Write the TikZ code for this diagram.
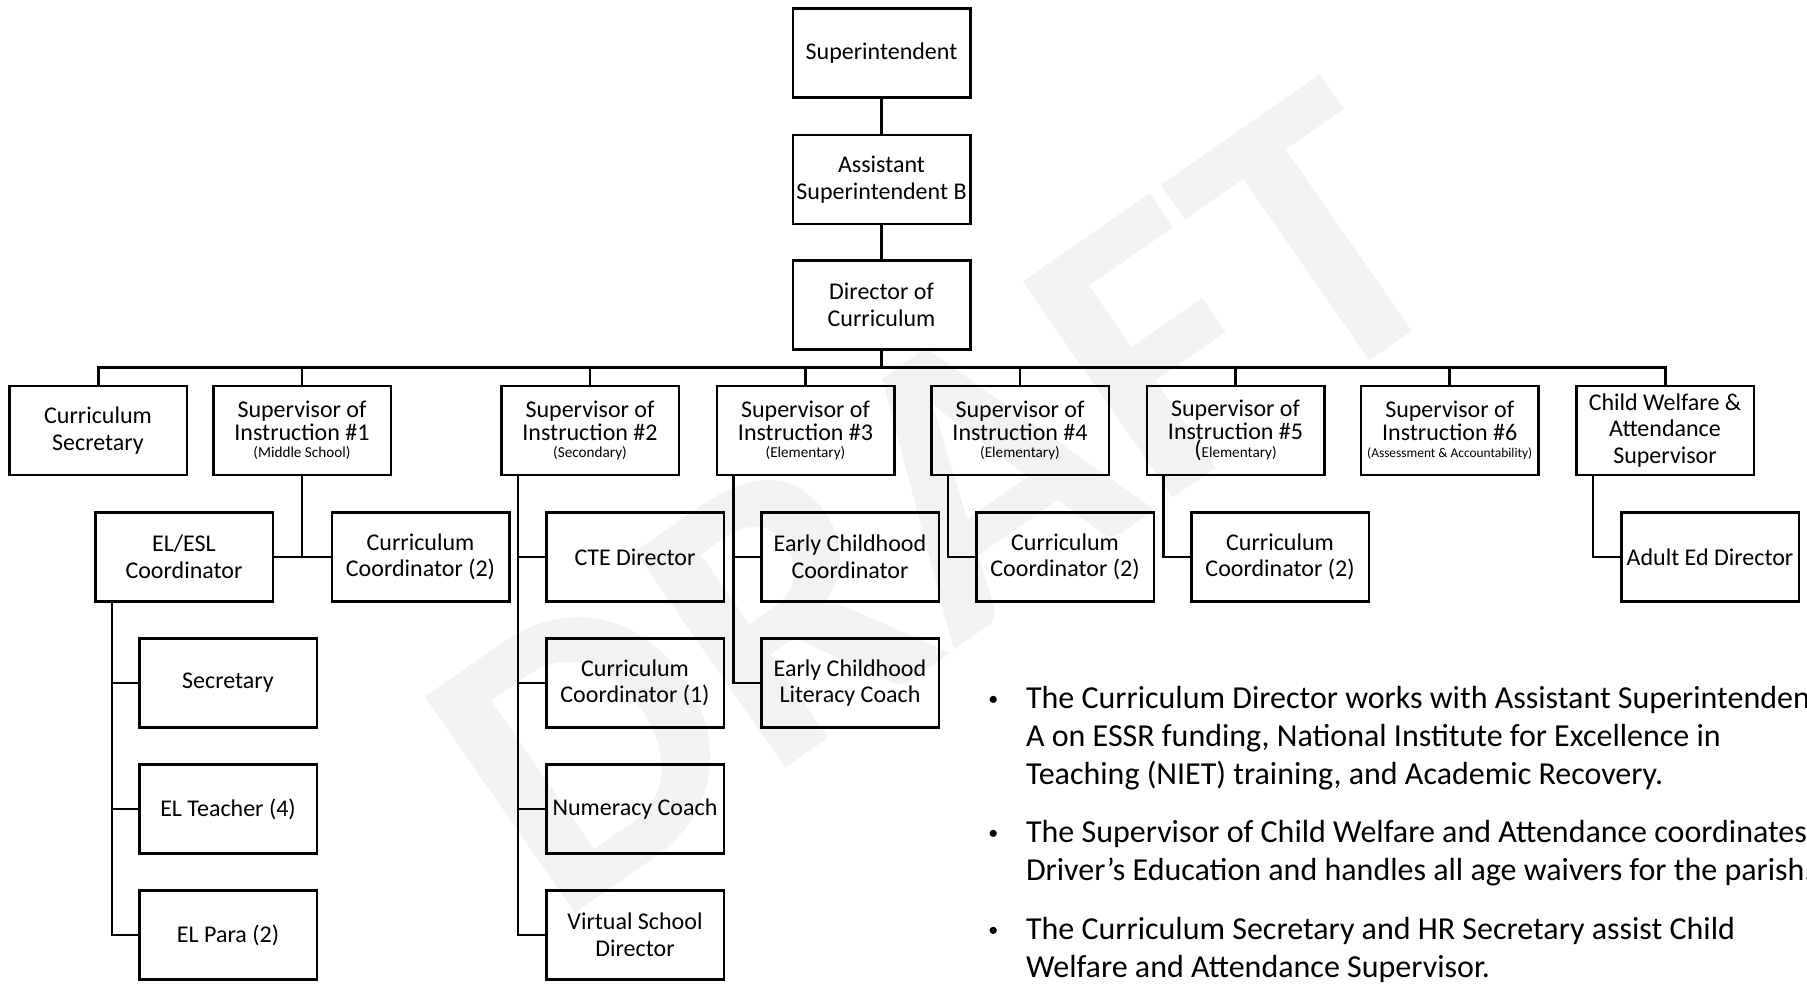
\documentclass[tikz,border=0pt]{standalone}
\usepackage{fontspec}
\setmainfont{Carlito}
\usepackage{tikz}
\usetikzlibrary{shapes,arrows,positioning}

\tikzstyle{block} = [rectangle, draw, line width=1.25pt, minimum width=88.75pt,
    minimum height=44.5pt, inner sep=0pt, align=center, font=\fontsize{12}{13.3}\selectfont]
\tikzstyle{super} = [block, font=\fontsize{12}{11.5}\selectfont]
\tikzstyle{line} = [draw, line width=1.25pt]
\tikzstyle{note} = [anchor=base west, inner sep=0pt, font=\fontsize{16}{19}\selectfont]
\tikzstyle{watermark} = [anchor=base, inner sep=0pt, text=black!5,
    font=\fontsize{203}{203}\selectfont\bfseries]

% small line under the supervisor titles
\newcommand{\schoollevel}[1]{{\fontsize{7.6}{8.7}\selectfont #1}}
% small round bullet for the notes
\newcommand{\notedot}{\raisebox{1.6pt}{\fontsize{10}{10}\selectfont\textbullet}}

\begin{document}
\begin{tikzpicture}[x=0.5pt, y=-0.5pt]

    \useasboundingbox (0,0) rectangle (1807,988);
    \clip (0,0) rectangle (1807,988);

    % Draft mark behind everything
    \node [watermark, rotate=34.8] (Draft) at (1015,608) {DRAFT};

    % Place nodes
    \node [block] (Supt) at (881.5,53) {Superintendent};
    \node [block, below=17.5pt of Supt] (AsstSupt) {Assistant\\Superintendent B};
    \node [block, below=17pt of AsstSupt] (DirCurr) {Director of\\Curriculum};

    \node [block] (CurrSec) at (98,430.5) {Curriculum\\Secretary};
    \node [super] (SupOne) at (302,430.5) {Supervisor of\\Instruction \#1\\[-2.8pt]\schoollevel{(Middle School)}};
    \node [super] (SupTwo) at (590,430.5) {Supervisor of\\Instruction \#2\\[-2.8pt]\schoollevel{(Secondary)}};
    \node [super] (SupThree) at (805.5,430.5) {Supervisor of\\Instruction \#3\\[-2.8pt]\schoollevel{(Elementary)}};
    \node [super] (SupFour) at (1020,430.5) {Supervisor of\\Instruction \#4\\[-2.8pt]\schoollevel{(Elementary)}};
    \node [super] (SupFive) at (1235.5,430.5) {Supervisor of\\Instruction \#5\\[-2.4pt]\schoollevel{{\fontsize{12}{12}\selectfont(}Elementary)}};
    \node [super] (SupSix) at (1449.7,430.5) {Supervisor of\\Instruction \#6\\[-3.2pt]{\fontsize{6.7}{8}\selectfont(Assessment \& Accountability)}};
    \node [block] (ChildWelfare) at (1665,430.5) {Child Welfare \&\\Attendance\\Supervisor};

    \node [block] (ELESL) at (184,557) {EL/ESL\\Coordinator};
    \node [block] (CurrCoordA) at (420.5,557) {Curriculum\\Coordinator (2)};
    \node [block] (CTEDir) at (635,557) {CTE Director};
    \node [block] (ECCoord) at (850,557) {Early Childhood\\Coordinator};
    \node [block] (CurrCoordB) at (1065,557) {Curriculum\\Coordinator (2)};
    \node [block] (CurrCoordC) at (1280,557) {Curriculum\\Coordinator (2)};
    \node [block] (AdultEd) at (1710,557) {Adult Ed Director};

    \node [block] (Secretary) at (228,683) {Secretary};
    \node [block, below=17.25pt of Secretary] (ELTeacher) {EL Teacher (4)};
    \node [block, below=17.25pt of ELTeacher] (ELPara) {EL Para (2)};

    \node [block, below=17.25pt of CTEDir] (CurrCoordOne) {Curriculum\\Coordinator (1)};
    \node [block, below=17.25pt of CurrCoordOne] (Numeracy) {Numeracy Coach};
    \node [block, below=17.25pt of Numeracy] (VirtualDir) {Virtual School\\Director};

    \node [block, below=17.25pt of ECCoord] (ECLiteracy) {Early Childhood\\Literacy Coach};

    % Notes
    \node [note] (NoteOne) at (988,708.5) {\begin{tabular}[t]{@{}p{18.8pt}@{}l@{}}
        \notedot & The Curriculum Director works with Assistant Superintendent\\
        & A on ESSR funding, National Institute for Excellence in\\
        & Teaching (NIET) training, and Academic Recovery.\end{tabular}};
    \node [note] (NoteTwo) at (988,842.5) {\begin{tabular}[t]{@{}p{18.8pt}@{}l@{}}
        \notedot & The Supervisor of Child Welfare and Attendance coordinates\\
        & Driver’s Education and handles all age waivers for the parish.\end{tabular}};
    \node [note] (NoteThree) at (988,939.5) {\begin{tabular}[t]{@{}p{18.8pt}@{}l@{}}
        \notedot & The Curriculum Secretary and HR Secretary assist Child\\
        & Welfare and Attendance Supervisor.\end{tabular}};

    % Top column
    \draw [line] (Supt) -- (AsstSupt);
    \draw [line] (AsstSupt) -- (DirCurr);
    \coordinate (Bus) at (881.5,367.5);
    \draw [line] (DirCurr) -- (Bus);

    % Bus to the second row
    \draw [line, line width=1.5pt] (CurrSec.north) |- (Bus) -| (ChildWelfare.north);
    \draw [line] (SupOne.north) -- (SupOne.north |- Bus);
    \draw [line] (SupTwo.north) -- (SupTwo.north |- Bus);
    \draw [line] (SupThree.north) -- (SupThree.north |- Bus);
    \draw [line] (SupFour.north) -- (SupFour.north |- Bus);
    \draw [line] (SupFive.north) -- (SupFive.north |- Bus);
    \draw [line] (SupSix.north) -- (SupSix.north |- Bus);

    % Supervisor #1
    \draw [line] (SupOne.south) -- (SupOne.south |- ELESL.east);
    \draw [line] (ELESL.east) -- (CurrCoordA.west);

    % EL/ESL staff
    \draw [line] ([xshift=9pt]ELESL.south west) |- (Secretary.west);
    \draw [line] ([xshift=9pt]ELESL.south west) |- (ELTeacher.west);
    \draw [line] ([xshift=9pt]ELESL.south west) |- (ELPara.west);

    % Supervisor #2
    \draw [line] ([xshift=9pt]SupTwo.south west) |- (CTEDir.west);
    \draw [line] ([xshift=9pt]SupTwo.south west) |- (CurrCoordOne.west);
    \draw [line] ([xshift=9pt]SupTwo.south west) |- (Numeracy.west);
    \draw [line] ([xshift=9pt]SupTwo.south west) |- (VirtualDir.west);

    % Supervisors #3, #4, #5
    \draw [line] ([xshift=9pt]SupThree.south west) |- (ECCoord.west);
    \draw [line] ([xshift=9pt]SupThree.south west) |- (ECLiteracy.west);
    \draw [line] ([xshift=9pt]SupFour.south west) |- (CurrCoordB.west);
    \draw [line] ([xshift=9pt]SupFive.south west) |- (CurrCoordC.west);

    % Child welfare
    \draw [line] ([xshift=9pt]ChildWelfare.south west) |- (AdultEd.west);

\end{tikzpicture}
\end{document}
